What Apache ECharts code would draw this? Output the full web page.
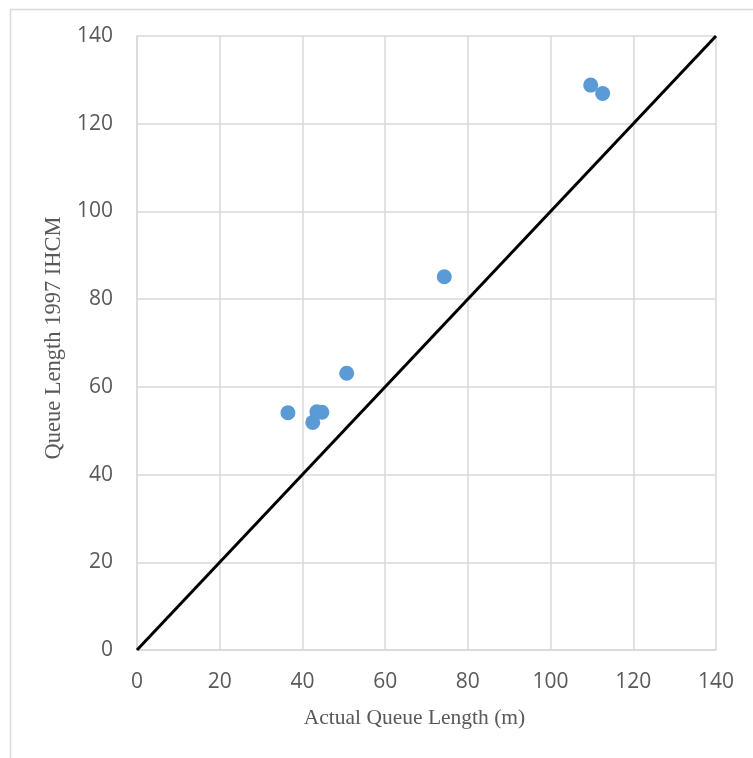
<!DOCTYPE html>
<html>
<head>
<meta charset="utf-8">
<script src="https://cdn.jsdelivr.net/npm/echarts@6/dist/echarts.min.js"></script>
<style>html,body{margin:0;padding:0;background:#fff;}#c{width:753px;height:758px;}</style>
</head>
<body>
<div id="c"></div>
<script>
const actualQueue = [36.5, 42.5, 43.5, 44.7, 50.7, 74.3, 109.7, 112.6];
const ihcmQueue = [54.1, 51.9, 54.3, 54.2, 63.1, 85.1, 128.8, 126.9];
const lineX = [0, 140];
const lineY = [0, 140];
const xTitle = 'Actual Queue Length (m)';
const yTitle = 'Queue Length 1997 IHCM';

const chart = echarts.init(document.getElementById('c'), null, {renderer: 'canvas'});
const tickFont = {color: '#595959', fontSize: 21, fontFamily: 'Open Sans, Liberation Sans, sans-serif'};
const serif = 'Liberation Serif, Times New Roman, serif';
chart.setOption({
  animation: false,
  backgroundColor: '#fff',
  graphic: [{
    type: 'rect', left: 8, top: 7,
    shape: {width: 800, height: 800},
    style: {fill: 'none', stroke: '#d9d9d9', lineWidth: 1.5},
    silent: true, z: -1
  }],
  grid: {left: 137, right: 37, top: 36, bottom: 108},
  xAxis: {
    type: 'value', min: 0, max: 140, interval: 20,
    name: xTitle, nameLocation: 'middle', nameGap: 57,
    nameTextStyle: {color: '#595959', fontSize: 21.5, fontFamily: serif, padding: [0, 24, 0, 0]},
    axisLine: {show: true, lineStyle: {color: '#d9d9d9', width: 1.5}},
    axisTick: {show: false},
    axisLabel: Object.assign({margin: 22}, tickFont),
    splitLine: {show: true, lineStyle: {color: '#d9d9d9', width: 1.5}}
  },
  yAxis: {
    type: 'value', min: 0, max: 140, interval: 20,
    name: yTitle, nameLocation: 'middle', nameGap: 70,
    nameTextStyle: {color: '#595959', fontSize: 22.5, fontFamily: serif, padding: [0, 0, 0, 10]},
    axisLine: {show: true, lineStyle: {color: '#d9d9d9', width: 1.5}},
    axisTick: {show: false},
    axisLabel: Object.assign({margin: 24}, tickFont),
    splitLine: {show: true, lineStyle: {color: '#d9d9d9', width: 1.5}}
  },
  series: [
    {
      type: 'line',
      data: lineX.map((x, i) => [x, lineY[i]]),
      showSymbol: false,
      lineStyle: {color: '#000', width: 3},
      z: 3
    },
    {
      type: 'scatter',
      data: actualQueue.map((x, i) => [x, ihcmQueue[i]]),
      symbolSize: 15,
      itemStyle: {color: '#5B9BD5', opacity: 1},
      z: 4
    }
  ]
});
</script>
</body>
</html>
